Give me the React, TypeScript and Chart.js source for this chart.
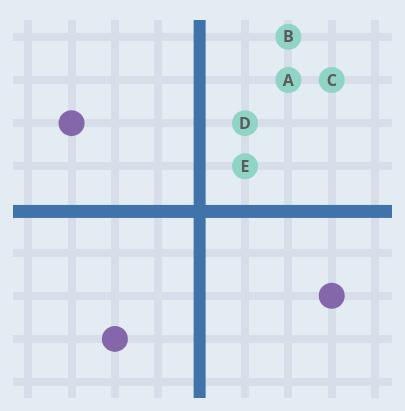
import React, { useEffect, useRef } from "react";
import { Chart, registerables } from "chart.js";

Chart.register(...registerables);

const tickValues = [-4, -3, -2, -1, 0, 1, 2, 3, 4];
const labeledNames = ["A", "B", "C", "D", "E"];
const labeledX = [2, 2, 3, 1, 1];
const labeledY = [3, 4, 3, 2, 1];
const plainX = [-3, 3, -2];
const plainY = [2, -2, -3];

const BG = "#e4ecf3";
const GRID = "#d7deea";
const AXIS = "#3f73a9";
const TEAL = "#8fd4c5";
const PURPLE = "#8467ab";

export default function App() {
  const ref = useRef<HTMLCanvasElement | null>(null);

  useEffect(() => {
    document.body.style.margin = "0";
    document.body.style.background = BG;
    const canvas = ref.current;
    if (!canvas) return;

    const bgPlugin = {
      id: "bg",
      beforeDraw(chart: any) {
        const c = chart.ctx;
        c.save();
        c.fillStyle = BG;
        c.fillRect(0, 0, chart.width, chart.height);
        c.restore();
      },
    };

    const axisPlugin = {
      id: "axes0",
      beforeDatasetsDraw(chart: any) {
        const { ctx: c, chartArea: a, scales } = chart;
        const x0 = scales.x.getPixelForValue(0) - 2;
        const y0 = scales.y.getPixelForValue(0) + 2;
        c.save();
        c.fillStyle = AXIS;
        c.fillRect(a.left, y0 - 6.5, a.right - a.left, 13);
        c.fillRect(x0 - 6, a.top, 12, a.bottom - a.top);
        c.restore();
      },
    };

    const labelPlugin = {
      id: "pointLabels",
      afterDatasetsDraw(chart: any) {
        const c = chart.ctx;
        const meta = chart.getDatasetMeta(0);
        c.save();
        c.fillStyle = "#5b5b5b";
        c.font = "bold 16px 'Open Sans', sans-serif";
        c.textAlign = "center";
        c.textBaseline = "middle";
        meta.data.forEach((el: any, i: number) => {
          c.fillText(labeledNames[i], el.x, el.y + 1);
        });
        c.restore();
      },
    };

    const gridOpts = (isX: boolean) => ({
      type: "linear" as const,
      min: isX ? -4.35 : -4.37,
      max: isX ? 4.39 : 4.39,
      afterBuildTicks(scale: any) {
        scale.ticks = tickValues.map((v) => ({ value: v }));
      },
      ticks: { display: false },
      border: { display: false },
      grid: {
        color: (ctx: any) => (ctx.tick && ctx.tick.value === 0 ? "rgba(0,0,0,0)" : GRID),
        lineWidth: 8,
        drawTicks: false,
      },
    });

    const chart = new Chart(canvas, {
      type: "scatter",
      data: {
        datasets: [
          {
            data: labeledX.map((x, i) => ({ x, y: labeledY[i] })),
            backgroundColor: TEAL,
            borderWidth: 0,
            pointRadius: 13,
            pointHoverRadius: 13,
          },
          {
            data: plainX.map((x, i) => ({ x, y: plainY[i] })),
            backgroundColor: PURPLE,
            borderWidth: 0,
            pointRadius: 13,
            pointHoverRadius: 13,
          },
        ],
      },
      options: {
        responsive: false,
        animation: false,
        layout: { padding: { left: 13, right: 12, top: 20, bottom: 11 } },
        plugins: { legend: { display: false }, tooltip: { enabled: false } },
        scales: { x: gridOpts(true), y: gridOpts(false) },
      },
      plugins: [bgPlugin, axisPlugin, labelPlugin],
    });

    return () => chart.destroy();
  }, []);

  return (
    <div style={{ width: 405, height: 411 }}>
      <canvas ref={ref} width={405} height={411} />
    </div>
  );
}
